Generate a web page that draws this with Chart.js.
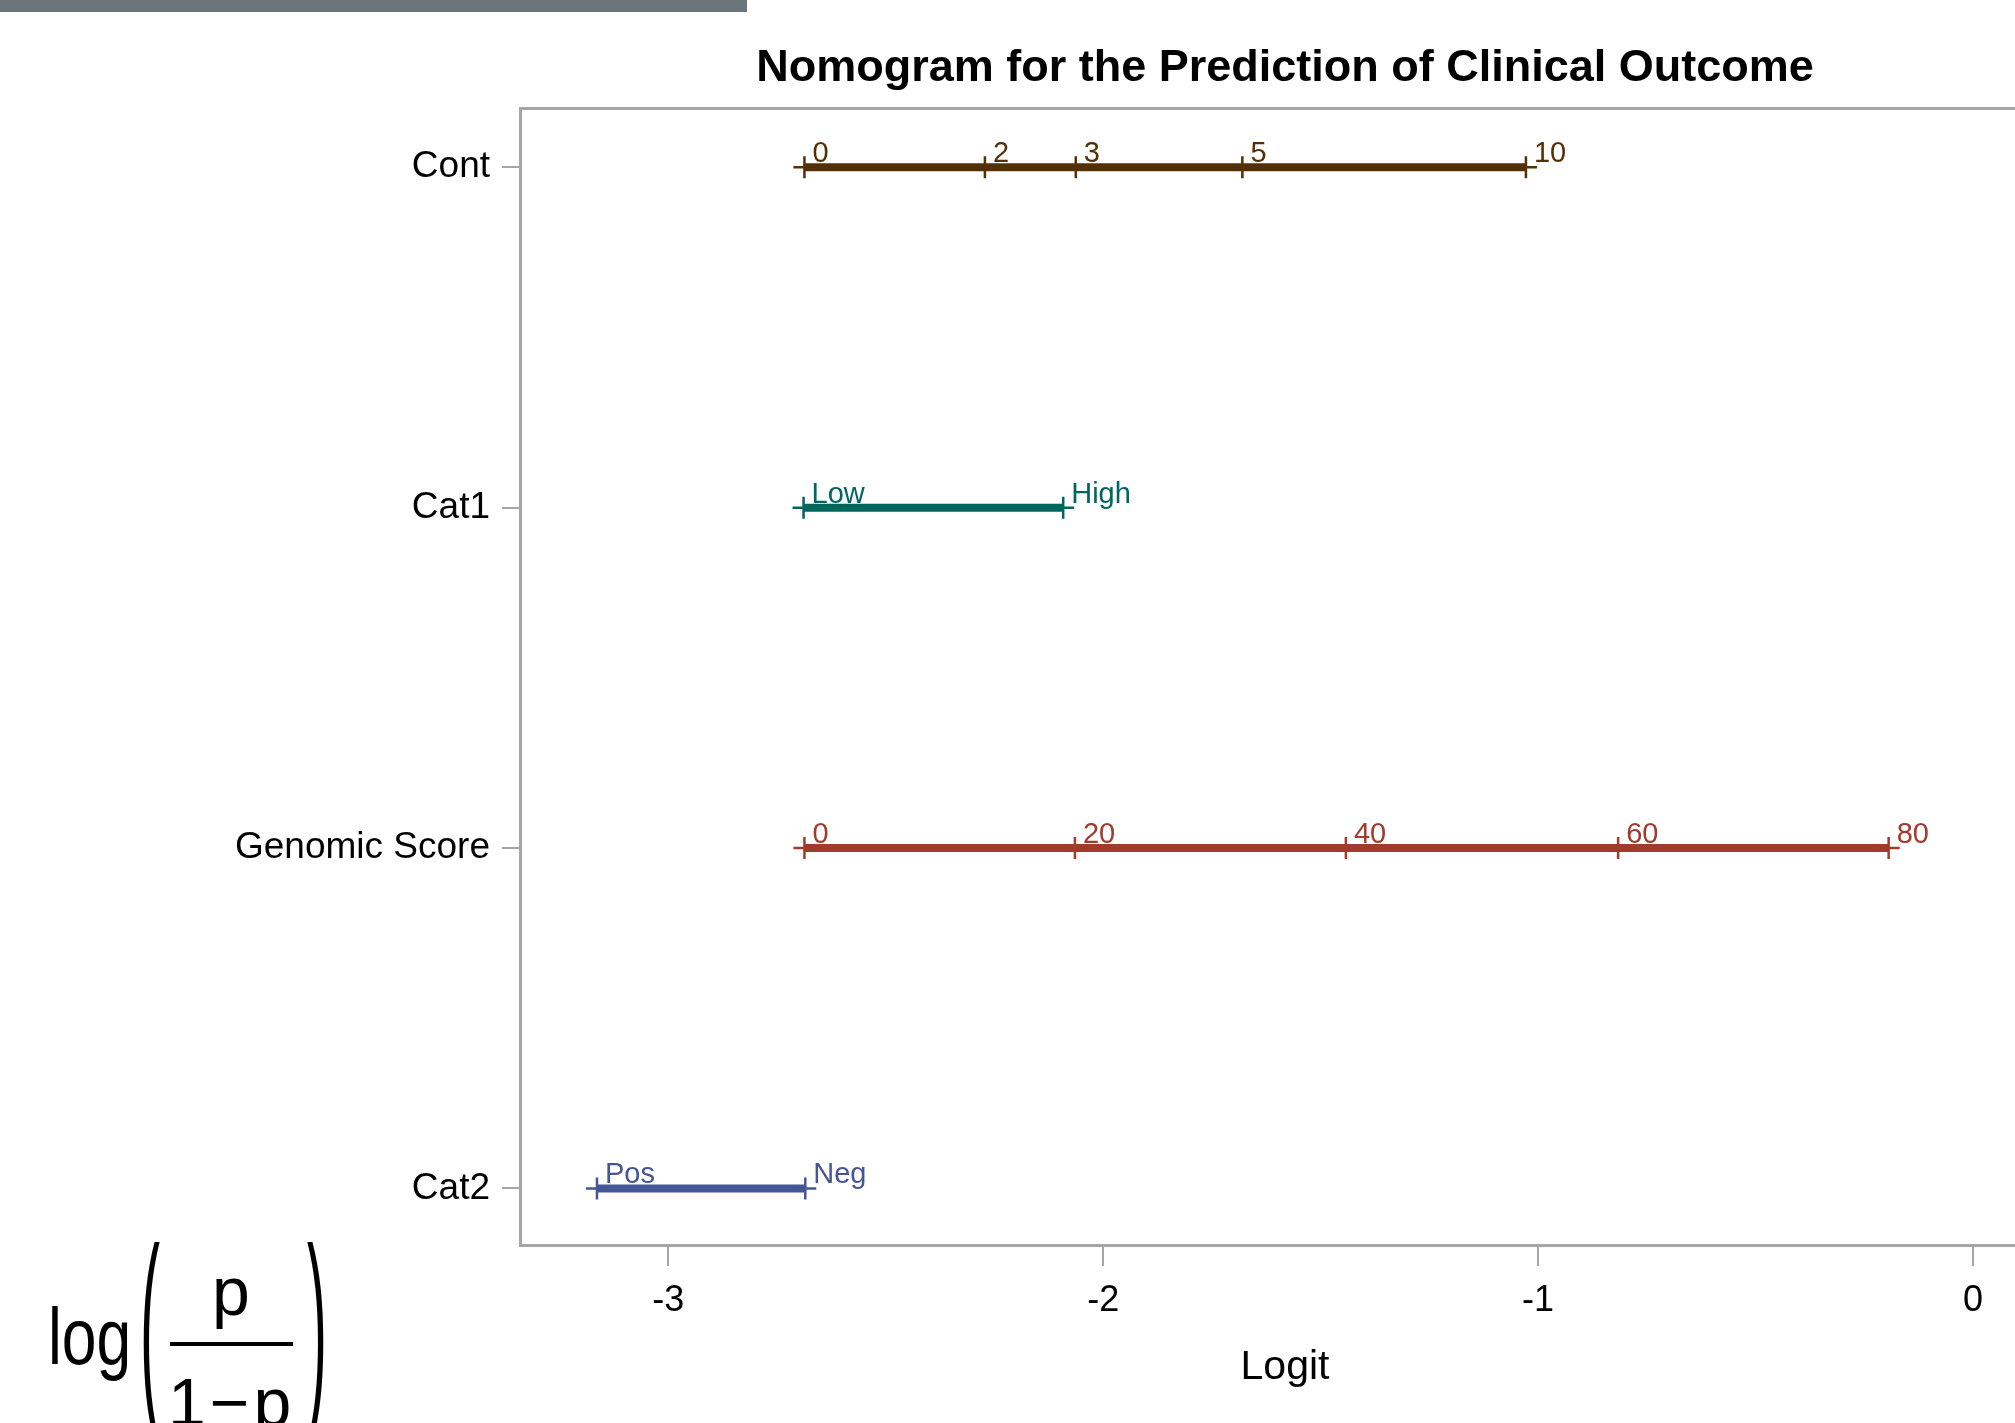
<!DOCTYPE html>
<html>
<head>
<meta charset="utf-8">
<title>Nomogram</title>
<script src="https://cdn.jsdelivr.net/npm/chart.js@4/dist/chart.umd.min.js"></script>
<style>
  html, body { margin: 0; padding: 0; background: #fff; overflow: hidden; }
  #wrap { position: relative; width: 2050px; height: 1423px; }
  #topbar { position: absolute; left: 0; top: 0; width: 747px; height: 12px; background: #6b757c; }
  .f { position: absolute; font-family: 'Liberation Sans', Arial, sans-serif; line-height: 1; color: #000; white-space: nowrap; }
  #fracbar { position: absolute; left: 170px; top: 1342px; width: 123px; height: 4px; background: #000; }
</style>
</head>
<body>
<div id="wrap">
  <canvas id="nomo" width="2050" height="1423"></canvas>
  <div id="topbar"></div>
  <span class="f" style="left:48px; top:1297px; font-size:80px; transform:scaleX(0.78); transform-origin:0 0;">log</span>
  <span class="f" style="left:140px; top:1309px; font-size:60px; transform:scale(1.0,3.6); transform-origin:0 35px;">(</span>
  <span class="f" style="left:212px; top:1257px; font-size:68px;">p</span>
  <div id="fracbar"></div>
  <span class="f" style="left:168px; top:1368px; font-size:68px; letter-spacing:4px;">1−p</span>
  <span class="f" style="left:307px; top:1309px; font-size:60px; transform:scale(1.0,3.6); transform-origin:0 35px;">)</span>
</div>
<script>
// rows of the nomogram, top to bottom
var rowNames = ['Cont', 'Cat1', 'Genomic Score', 'Cat2'];

// value labels and their logit positions for each row
var contLabels = ['0', '2', '3', '5', '10'];
var contLogit  = [-2.687, -2.272, -2.063, -1.680, -1.028];

var cat1Labels = ['Low', 'High'];
var cat1Logit  = [-2.689, -2.092];

var genoLabels = ['0', '20', '40', '60', '80'];
var genoLogit  = [-2.687, -2.065, -1.442, -0.816, -0.194];

var cat2Labels = ['Pos', 'Neg'];
var cat2Logit  = [-3.164, -2.685];

var xTicks = [-3, -2, -1, 0];

var FONT = "'Liberation Sans', Arial, sans-serif";
var AXIS_GRAY = '#a6a6a6';

function rowData(logits, rowIdx) {
    return logits.map(function(v) { return { x: v, y: rowIdx }; });
}

function lineSet(name, logits, labels, rowIdx, color) {
    return {
        label: name,
        data: rowData(logits, rowIdx),
        valueLabels: labels,
        showLine: true,
        borderColor: color,
        backgroundColor: color,
        borderWidth: 8,
        pointStyle: 'cross',
        pointRadius: 11,
        pointHoverRadius: 11,
        pointBorderWidth: 2.5,
        pointBorderColor: color
    };
}

var valueLabelPlugin = {
    id: 'valueLabels',
    afterDatasetsDraw: function(chart) {
        var ctx = chart.ctx;
        ctx.save();
        ctx.font = '29px ' + FONT;
        ctx.textAlign = 'left';
        ctx.textBaseline = 'alphabetic';
        chart.data.datasets.forEach(function(ds, i) {
            var meta = chart.getDatasetMeta(i);
            ctx.fillStyle = ds.borderColor;
            meta.data.forEach(function(pt, j) {
                ctx.fillText(ds.valueLabels[j], pt.x + 8, pt.y - 5);
            });
        });
        ctx.restore();
    }
};

var xMin = -3.341, xMax = 0.177;

new Chart(document.getElementById('nomo'), {
    type: 'scatter',
    data: {
        datasets: [
            lineSet('Cont', contLogit, contLabels, 0, '#543005'),
            lineSet('Cat1', cat1Logit, cat1Labels, 1, '#01665E'),
            lineSet('Genomic Score', genoLogit, genoLabels, 2, '#A23A2E'),
            lineSet('Cat2', cat2Logit, cat2Labels, 3, '#445694')
        ]
    },
    plugins: [valueLabelPlugin],
    options: {
        responsive: false,
        animation: false,
        devicePixelRatio: 1,
        layout: { padding: 0, autoPadding: false },
        plugins: {
            legend: { display: false },
            tooltip: { enabled: false },
            title: {
                display: true,
                text: 'Nomogram for the Prediction of Clinical Outcome',
                fullSize: false,
                color: '#000',
                font: { family: FONT, size: 45, weight: 'bold', lineHeight: 1.2 },
                padding: { top: 42, bottom: 12 }
            }
        },
        scales: {
            x: {
                type: 'linear',
                position: 'bottom',
                min: xMin,
                max: xMax,
                afterFit: function(s) { s.height = 178; },
                afterBuildTicks: function(s) {
                    s.ticks = xTicks.map(function(v) { return { value: v }; });
                },
                grid: { drawOnChartArea: false, tickLength: 21, color: AXIS_GRAY, lineWidth: 2 },
                border: { display: true, color: AXIS_GRAY, width: 3 },
                ticks: {
                    color: '#000',
                    padding: 13,
                    maxRotation: 0,
                    font: { family: FONT, size: 36 },
                    callback: function(v) { return String(v); }
                },
                title: {
                    display: true,
                    text: 'Logit',
                    color: '#000',
                    font: { family: FONT, size: 41 },
                    padding: { top: 0, bottom: 31 }
                }
            },
            xTop: {
                type: 'linear',
                position: 'top',
                min: xMin,
                max: xMax,
                afterFit: function(s) { s.height = 0; },
                grid: { display: false },
                ticks: { display: false },
                border: { display: true, color: AXIS_GRAY, width: 3 }
            },
            y: {
                type: 'linear',
                reverse: true,
                min: -0.174,
                max: 3.166,
                afterFit: function(s) { s.width = 520; },
                afterBuildTicks: function(s) {
                    s.ticks = rowNames.map(function(n, i) { return { value: i }; });
                },
                grid: { drawOnChartArea: false, tickLength: 18, color: AXIS_GRAY, lineWidth: 2 },
                border: { display: true, color: AXIS_GRAY, width: 3 },
                ticks: {
                    color: '#000',
                    padding: 12,
                    font: { family: FONT, size: 37 },
                    callback: function(v) { return rowNames[v] || ''; }
                }
            }
        }
    }
});
</script>
</body>
</html>
